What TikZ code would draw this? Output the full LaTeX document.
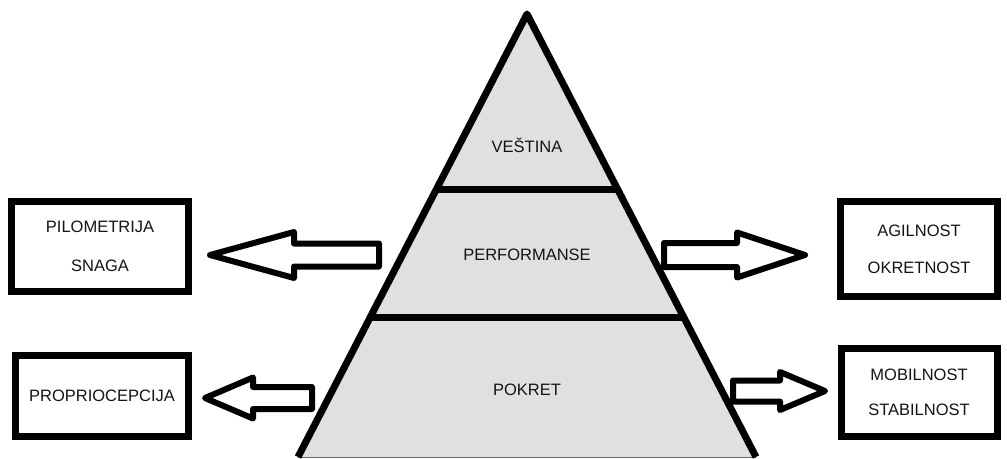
\documentclass[tikz,border=0pt]{standalone}
\usepackage{fontspec}
\setmainfont{Liberation Sans}
\usepackage{xcolor}
\usetikzlibrary{calc,positioning}
\definecolor{layerfill}{RGB}{224,224,224}
\definecolor{inkdark}{RGB}{20,20,20}

\begin{document}
\begin{tikzpicture}[x=1pt, y=-1pt,
  edge/.style={draw=black, line width=7pt, line join=round},
  infobox/.style={draw=black, line width=7pt, fill=white, align=center,
    font=\fontsize{16.5}{19}\selectfont, text=inkdark, inner sep=0pt},
  tlabel/.style={font=\fontsize{16.5}{19}\selectfont, text=inkdark},
  blockarrow/.style={draw=black, line width=6pt, fill=white, line join=round}
]
\useasboundingbox (0,0) rectangle (1007,458);
% pyramid: apex, base corners and the two level cuts
\coordinate (apex) at (527,14);
\coordinate (bl) at (298,457);
\coordinate (br) at (756,457);
\coordinate (c1l) at ($(apex)!{176/443}!(bl)$);
\coordinate (c1r) at ($(apex)!{176/443}!(br)$);
\coordinate (c2l) at ($(apex)!{304/443}!(bl)$);
\coordinate (c2r) at ($(apex)!{304/443}!(br)$);
\fill[layerfill] (apex) -- (bl) -- (br) -- cycle;
\draw[black!60, line width=1pt] (bl) -- (br);
\draw[edge] (bl) -- (apex) -- (br);
\draw[edge, line cap=butt] (c1l) -- (c1r);
\draw[edge, line cap=butt] (c2l) -- (c2r);
\node[tlabel] (vestina) at (527,145) {VEŠTINA};
\node[tlabel] (perf) at (527,255) {PERFORMANSE};
\node[tlabel] (pokret) at (527,390) {POKRET};
% side boxes
\node[infobox, minimum width=177, minimum height=90] (snaga) at (100,246.5)
  {PILOMETRIJA\\[20pt]SNAGA};
\node[infobox, minimum width=157, minimum height=95] (agil) at (919,249)
  {AGILNOST\\[18pt]OKRETNOST};
\node[infobox, minimum width=173, minimum height=81] (propr) at (102,396)
  {PROPRIOCEPCIJA};
\node[infobox, minimum width=156, minimum height=88] (mobil) at (919,392.5)
  {MOBILNOST\\[16pt]STABILNOST};
% block arrows: tail / head base / tip / y / shaft half / head half
\foreach \tl/\hb/\tp/\yy/\s/\h in {379/294/210/255/11.5/23, 664/737/805/255/12/22.5,
    312/253/205/398/11/20.5, 733/780/825/391/10.5/19} {
  \draw[blockarrow] (\tl,\yy-\s) -- (\hb,\yy-\s) -- (\hb,\yy-\h) -- (\tp,\yy)
    -- (\hb,\yy+\h) -- (\hb,\yy+\s) -- (\tl,\yy+\s) -- cycle;
}
\end{tikzpicture}
\end{document}
